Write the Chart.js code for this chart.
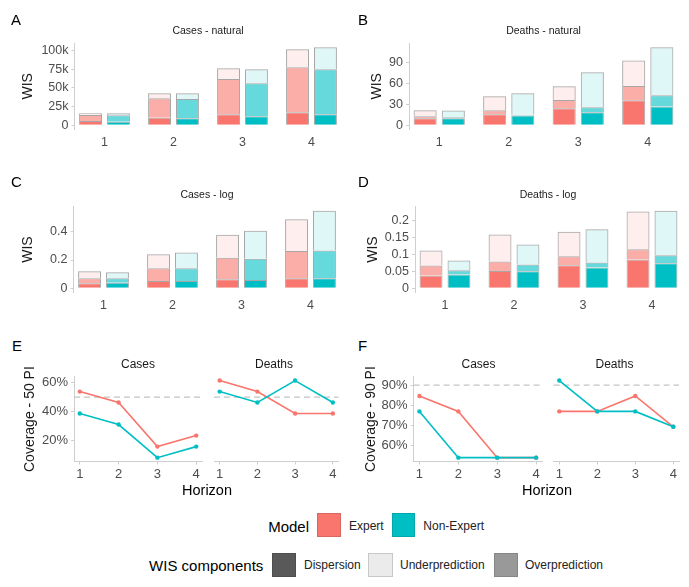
<!DOCTYPE html>
<html><head><meta charset="utf-8">
<script src="https://cdn.jsdelivr.net/npm/chart.js@4.4.1/dist/chart.umd.min.js"></script>
<style>
html,body{margin:0;padding:0;background:#fff;}
body{width:689px;height:587px;overflow:hidden;position:relative;font-family:'Liberation Sans',Arial,Helvetica,sans-serif;}
.t{position:absolute;white-space:nowrap;line-height:1;color:#1a1a1a;}
canvas{position:absolute;}
.sw{position:absolute;box-sizing:border-box;}
</style></head><body>
<script>
// ---------------- DATA ----------------
const horizons = [1, 2, 3, 4];
const models = ['Expert', 'Non-Expert'];
const components = ['Dispersion', 'Underprediction', 'Overprediction'];

// A: Cases - natural (WIS components)
const casesNatExpDisp  = [5800, 10200, 14700, 17300];
const casesNatExpOver  = [8000, 25800, 47100, 60000];
const casesNatExpUnder = [2400, 6700, 14200, 24000];
const casesNatNEDisp   = [4900, 9300, 12000, 14700];
const casesNatNEOver   = [8400, 25700, 44000, 60000];
const casesNatNEUnder  = [2900, 7700, 18700, 29300];
const casesNatTickVals = [0, 25000, 50000, 75000, 100000];
const casesNatTickLabels = ['0', '25k', '50k', '75k', '100k'];

// B: Deaths - natural
const deathsNatExpDisp  = [10, 15.9, 24.5, 36.1];
const deathsNatExpOver  = [3, 5.8, 12.1, 20.7];
const deathsNatExpUnder = [8.7, 20.2, 19.7, 36.6];
const deathsNatNEDisp   = [10, 14, 18.8, 27];
const deathsNatNEOver   = [1.5, 1.4, 7.2, 16.3];
const deathsNatNEUnder  = [9.7, 30.8, 50.5, 69.3];
const deathsNatTickVals = [0, 30, 60, 90];
const deathsNatTickLabels = ['0', '30', '60', '90'];

// C: Cases - log
const casesLogExpDisp  = [0.035, 0.052, 0.064, 0.071];
const casesLogExpOver  = [0.036, 0.089, 0.152, 0.193];
const casesLogExpUnder = [0.049, 0.099, 0.163, 0.225];
const casesLogNEDisp   = [0.040, 0.052, 0.059, 0.071];
const casesLogNEOver   = [0.031, 0.089, 0.150, 0.197];
const casesLogNEUnder  = [0.042, 0.113, 0.198, 0.280];
const casesLogTickVals = [0, 0.2, 0.4];
const casesLogTickLabels = ['0', '0.2', '0.4'];

// D: Deaths - log
const deathsLogExpDisp  = [0.038, 0.051, 0.068, 0.085];
const deathsLogExpOver  = [0.029, 0.028, 0.026, 0.030];
const deathsLogExpUnder = [0.044, 0.079, 0.072, 0.111];
const deathsLogNEDisp   = [0.041, 0.050, 0.061, 0.074];
const deathsLogNEOver   = [0.012, 0.020, 0.015, 0.023];
const deathsLogNEUnder  = [0.029, 0.059, 0.098, 0.131];
const deathsLogTickVals = [0, 0.05, 0.1, 0.15, 0.2];
const deathsLogTickLabels = ['0', '0.05', '0.1', '0.15', '0.2'];

// E: Coverage 50% PI (percent)
const cov50CasesExpert     = [53.8, 46.2, 15.4, 23.1];
const cov50CasesNonExpert  = [38.5, 30.8, 7.7, 15.4];
const cov50DeathsExpert    = [61.5, 53.8, 38.5, 38.5];
const cov50DeathsNonExpert = [53.8, 46.2, 61.5, 46.2];
const cov50Target = 50;
const cov50TickVals = [20, 40, 60];
const cov50TickLabels = ['20%', '40%', '60%'];

// F: Coverage 90% PI (percent)
const cov90CasesExpert     = [84.6, 76.9, 53.8, 53.8];
const cov90CasesNonExpert  = [76.9, 53.8, 53.8, 53.8];
const cov90DeathsExpert    = [76.9, 76.9, 84.6, 69.2];
const cov90DeathsNonExpert = [92.3, 76.9, 76.9, 69.2];
const cov90Target = 90;
const cov90TickVals = [60, 70, 80, 90];
const cov90TickLabels = ['60%', '70%', '80%', '90%'];

// ---------------- STYLE ----------------
const FONT = "'Liberation Sans', Arial, Helvetica, sans-serif";
const EXPERT = [248, 118, 109], NONEXP = [0, 191, 196];
const rgba = (c, a) => `rgba(${c[0]},${c[1]},${c[2]},${a})`;
const AX = '#cfcfcf', TICK = '#4d4d4d';

function txt(s, x, y, size, anchor, color) {
  const d = document.createElement('div');
  d.className = 't'; d.textContent = s;
  d.style.fontSize = size + 'px';
  if (color) d.style.color = color;
  d.style.top = y + 'px';
  if (anchor === 'center') { d.style.left = x + 'px'; d.style.transform = 'translate(-50%,-50%)'; }
  else if (anchor === 'right') { d.style.right = (689 - x) + 'px'; d.style.transform = 'translateY(-50%)'; }
  else { d.style.left = x + 'px'; d.style.transform = 'translateY(-50%)'; }
  document.body.appendChild(d);
}
function sw(x, y, w, h, bg, border) {
  const d = document.createElement('div');
  d.className = 'sw';
  Object.assign(d.style, {left: x + 'px', top: y + 'px', width: w + 'px', height: h + 'px', background: bg, border: '1px solid ' + (border || 'rgba(0,0,0,0.12)')});
  document.body.appendChild(d);
}
function mkCanvas(r) {
  const c = document.createElement('canvas');
  c.width = r[2]; c.height = r[3];
  c.style.left = r[0] + 'px'; c.style.top = r[1] + 'px';
  document.body.appendChild(c);
  return c;
}
const fixedTicks = vals => s => { s.ticks = vals.map(v => ({value: v})); };
const pts = arr => horizons.map((h, i) => ({x: h, y: arr[i]}));

const refLine = {
  id: 'refLine',
  beforeDatasetsDraw(chart, args, o) {
    if (o.value == null) return;
    const {ctx, chartArea: a} = chart;
    const py = chart.scales.y.getPixelForValue(o.value);
    ctx.save(); ctx.strokeStyle = '#c4c4c4'; ctx.lineWidth = 1.2; ctx.setLineDash([6, 4]);
    ctx.beginPath(); ctx.moveTo(a.left, py); ctx.lineTo(a.right, py); ctx.stroke(); ctx.restore();
  }
};

function barPanel(r, area, titlePad, exp, ne, yVals, yLabels) {
  const totals = horizons.map((h, i) => Math.max(exp[0][i] + exp[1][i] + exp[2][i], ne[0][i] + ne[1][i] + ne[2][i]));
  const ymax = Math.max(...totals);
  const alphas = [1, 0.6, 0.12];
  const ds = [];
  [[exp, EXPERT, 'Expert'], [ne, NONEXP, 'Non-Expert']].forEach(([comps, col, name]) => {
    comps.forEach((arr, k) => ds.push({
      label: name + ' ' + ['Dispersion', 'Overprediction', 'Underprediction'][k],
      data: pts(arr), stack: name,
      backgroundColor: rgba(col, alphas[k]),
      borderColor: 'rgba(60,60,60,0.45)', borderWidth: 1, borderSkipped: 'start'
    }));
  });
  new Chart(mkCanvas(r), {
    type: 'bar',
    data: {datasets: ds},
    options: {
      responsive: false, animation: false, devicePixelRatio: 1,
      categoryPercentage: 0.81, barPercentage: 0.82,
      layout: {padding: {left: 0, top: area.top - r[1], right: r[0] + r[2] - area.right, bottom: 0}},
      plugins: {legend: {display: false}, tooltip: {enabled: false}},
      scales: {
        x: {
          type: 'linear', stacked: true, offset: false, min: horizons[0] - 0.435, max: horizons[horizons.length - 1] + 0.435,
          afterBuildTicks: fixedTicks(horizons),
          afterFit: s => { s.height = r[1] + r[3] - area.bottom; },
          grid: {display: false, drawTicks: false, offset: false}, border: {display: false},
          ticks: {color: TICK, font: {family: FONT, size: 12.5}, padding: 6, callback: v => String(v)}
        },
        y: {
          stacked: true, min: -0.05 * ymax, max: 1.05 * ymax,
          afterBuildTicks: fixedTicks(yVals),
          afterFit: s => { s.width = area.left - r[0]; },
          grid: {display: true, drawOnChartArea: false, drawTicks: true, tickLength: 3, color: AX},
          border: {display: true, color: AX, width: 1},
          ticks: {color: TICK, font: {family: FONT, size: 12.5}, padding: 3, callback: (v, i) => yLabels[i]},
          title: {display: true, text: 'WIS', color: '#1a1a1a', font: {family: FONT, size: 14}, padding: {top: titlePad, bottom: 0}}
        }
      }
    }
  });
}

function linePanel(r, area, showY, titlePad, ytitle, exp, ne, allSeries, yVals, yLabels, target) {
  const all = [].concat(...allSeries);
  const lo = Math.min(...all), hi = Math.max(...all), pad = 0.05 * (hi - lo);
  const mk = (arr, col, name, order) => ({label: name, data: pts(arr), borderColor: rgba(col, 1), backgroundColor: rgba(col, 1),
    borderWidth: 1.6, pointRadius: 2.2, pointBorderWidth: 0, tension: 0, order});
  new Chart(mkCanvas(r), {
    type: 'line',
    data: {datasets: [mk(exp, EXPERT, 'Expert', 2), mk(ne, NONEXP, 'Non-Expert', 1)]},
    plugins: [refLine],
    options: {
      responsive: false, animation: false, devicePixelRatio: 1,
      layout: {padding: {left: showY ? 0 : area.left - r[0], top: area.top - r[1], right: r[0] + r[2] - area.right, bottom: 0}},
      plugins: {legend: {display: false}, tooltip: {enabled: false}, refLine: {value: target}},
      scales: {
        x: {
          type: 'linear', min: horizons[0] - 0.15, max: horizons[horizons.length - 1] + 0.15,
          afterBuildTicks: fixedTicks(horizons),
          afterFit: s => { s.height = r[1] + r[3] - area.bottom; },
          grid: {display: true, drawOnChartArea: false, drawTicks: true, tickLength: 3, color: AX},
          border: {display: true, color: AX, width: 1},
          ticks: {color: TICK, font: {family: FONT, size: 13}, padding: 2, callback: v => String(v)}
        },
        y: {
          display: showY, min: lo - pad, max: hi + pad,
          afterBuildTicks: fixedTicks(yVals),
          afterFit: s => { s.width = area.left - r[0]; },
          grid: {display: true, drawOnChartArea: false, drawTicks: true, tickLength: 3, color: AX},
          border: {display: true, color: AX, width: 1},
          ticks: {color: TICK, font: {family: FONT, size: 13}, padding: 3, callback: (v, i) => yLabels[i]},
          title: {display: true, text: ytitle, color: '#1a1a1a', font: {family: FONT, size: 14}, padding: {top: titlePad, bottom: 0}}
        }
      }
    }
  });
}

// ---------------- PANELS ----------------
barPanel([0, 20, 345, 135], {left: 74.5, top: 43.4, right: 341.5, bottom: 129.2}, 19.6,
  [casesNatExpDisp, casesNatExpOver, casesNatExpUnder], [casesNatNEDisp, casesNatNEOver, casesNatNEUnder], casesNatTickVals, casesNatTickLabels);
barPanel([345, 20, 344, 135], {left: 409, top: 43.4, right: 678, bottom: 129.2}, 23.6,
  [deathsNatExpDisp, deathsNatExpOver, deathsNatExpUnder], [deathsNatNEDisp, deathsNatNEOver, deathsNatNEUnder], deathsNatTickVals, deathsNatTickLabels);
barPanel([0, 180, 345, 135], {left: 73.5, top: 206.9, right: 340.5, bottom: 292.2}, 19.6,
  [casesLogExpDisp, casesLogExpOver, casesLogExpUnder], [casesLogNEDisp, casesLogNEOver, casesLogNEUnder], casesLogTickVals, casesLogTickLabels);
barPanel([345, 180, 344, 135], {left: 415, top: 206.9, right: 682, bottom: 292.2}, 19.6,
  [deathsLogExpDisp, deathsLogExpOver, deathsLogExpUnder], [deathsLogNEDisp, deathsLogNEOver, deathsLogNEUnder], deathsLogTickVals, deathsLogTickLabels);

const all50 = [cov50CasesExpert, cov50CasesNonExpert, cov50DeathsExpert, cov50DeathsNonExpert];
const all90 = [cov90CasesExpert, cov90CasesNonExpert, cov90DeathsExpert, cov90DeathsNonExpert];
linePanel([0, 355, 206, 130], {left: 74, top: 376.7, right: 202.5, bottom: 461.5}, true, 21.6, 'Coverage - 50 PI',
  cov50CasesExpert, cov50CasesNonExpert, all50, cov50TickVals, cov50TickLabels, cov50Target);
linePanel([206, 355, 139, 130], {left: 210, top: 376.7, right: 338.5, bottom: 461.5}, false, 0, '',
  cov50DeathsExpert, cov50DeathsNonExpert, all50, cov50TickVals, cov50TickLabels, cov50Target);
linePanel([345, 355, 201, 130], {left: 413.6, top: 376.7, right: 543, bottom: 461.5}, true, 17.6, 'Coverage - 90 PI',
  cov90CasesExpert, cov90CasesNonExpert, all90, cov90TickVals, cov90TickLabels, cov90Target);
linePanel([546, 355, 143, 130], {left: 549.8, top: 376.7, right: 679, bottom: 461.5}, false, 0, '',
  cov90DeathsExpert, cov90DeathsNonExpert, all90, cov90TickVals, cov90TickLabels, cov90Target);

// ---------------- TEXT ----------------
txt('A', 11, 19, 15, 'left', '#000'); txt('B', 358, 19, 15, 'left', '#000');
txt('C', 11, 181, 15, 'left', '#000'); txt('D', 358, 181, 15, 'left', '#000');
txt('E', 12, 345, 15, 'left', '#000'); txt('F', 358, 345, 15, 'left', '#000');
txt('Cases - natural', 208, 30, 10.5, 'center');
txt('Deaths - natural', 543.5, 30, 10.5, 'center');
txt('Cases - log', 207, 193.5, 10.5, 'center');
txt('Deaths - log', 548, 193.5, 10.5, 'center');
txt('Cases', 138, 364, 12, 'center'); txt('Deaths', 274, 364, 12, 'center');
txt('Cases', 478.5, 364, 12, 'center'); txt('Deaths', 614.5, 364, 12, 'center');
txt('Horizon', 207, 490, 14.5, 'center', '#000'); txt('Horizon', 547, 490, 14.5, 'center', '#000');

// ---------------- LEGEND ----------------
txt('Model', 309, 526, 15, 'right', '#000');
sw(317.3, 513.3, 23.4, 24, rgba(EXPERT, 1));
txt(models[0], 349, 526, 12, 'left', '#222');
sw(391.7, 513.3, 23.4, 24, rgba(NONEXP, 1));
txt(models[1], 423.3, 526, 12, 'left', '#222');
txt('WIS components', 263.3, 565, 15, 'right', '#000');
sw(271.7, 552.7, 24.3, 24, '#595959');
txt(components[0], 304, 565, 12, 'left', '#222');
sw(368.3, 552.7, 24.3, 24, '#ebebeb', '#c8c8c8');
txt(components[1], 400, 565, 12, 'left', '#222');
sw(494, 552.7, 24.3, 24, '#999999');
txt(components[2], 525, 565, 12, 'left', '#222');
</script>
</body></html>
